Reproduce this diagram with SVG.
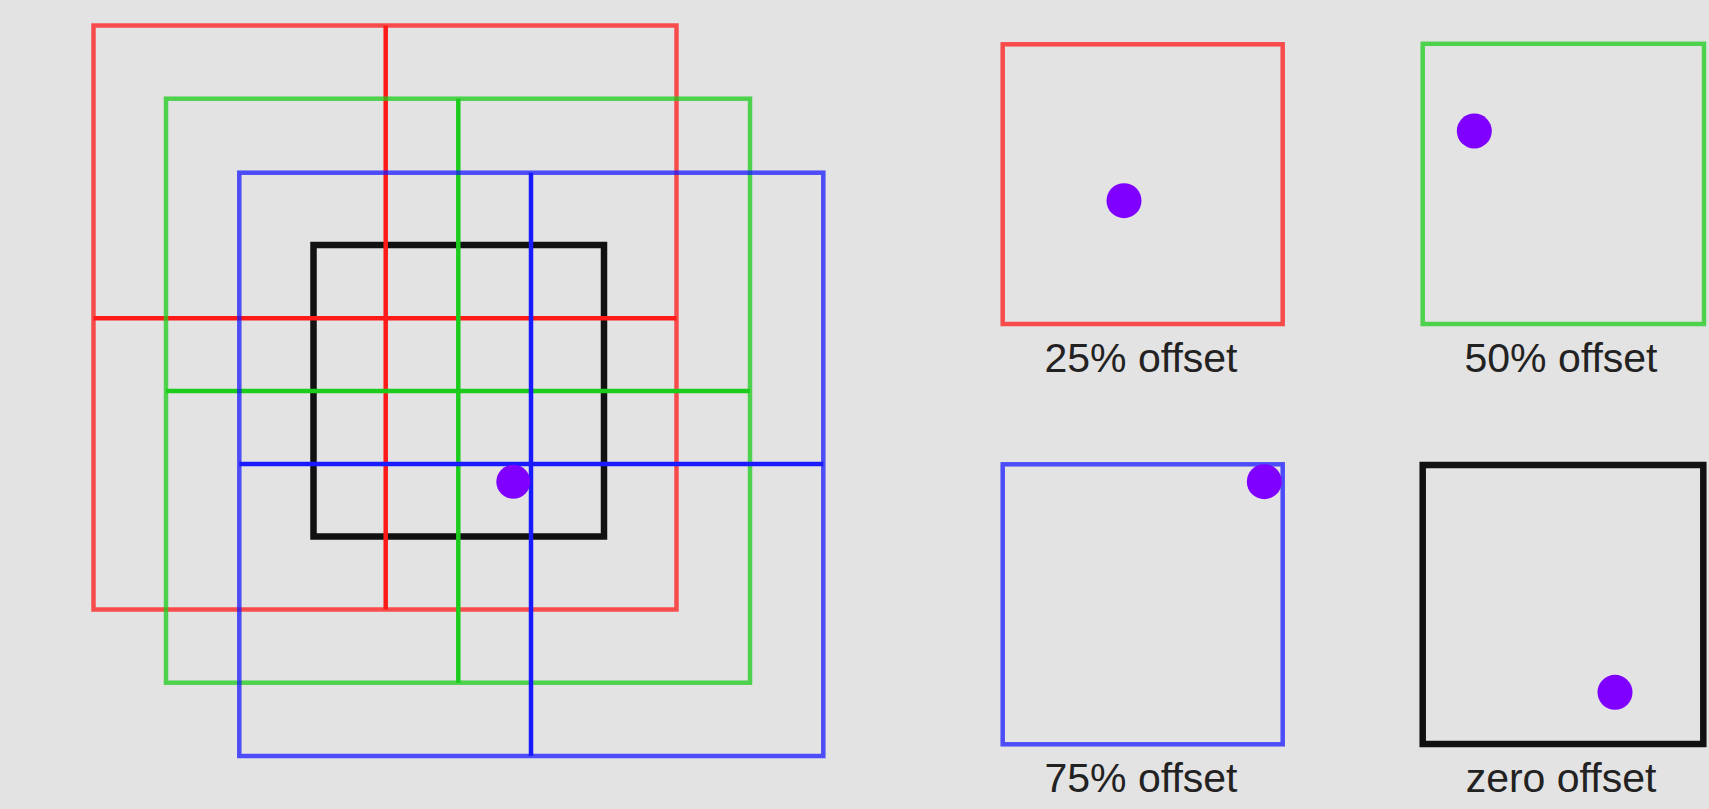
<svg xmlns="http://www.w3.org/2000/svg" width="1709" height="809" viewBox="0 0 1709 809">
<style>
.r{fill:none;stroke:#ff1a1a;stroke-width:4.5}
.g{fill:none;stroke:#1ccc1c;stroke-width:4.5}
.b{fill:none;stroke:#1a1aff;stroke-width:4.5}
.k{fill:none;stroke:#111;stroke-width:6.5}
.ro{stroke-opacity:0.75}
.dot{fill:#8000ff}
.lbl{font-family:"Liberation Sans",Arial,sans-serif;font-size:41px;fill:#222;text-anchor:middle}
</style>
<rect width="1709" height="809" fill="#e3e3e3"/>
<g id="tiling">
  <rect class="k" x="313.5" y="245" width="290.5" height="291.5"/>
  <g id="red-tiles">
    <rect class="r ro" x="93.5" y="25.5" width="583" height="584"/>
    <line class="r" x1="385.7" y1="25.5" x2="385.7" y2="609.5"/>
    <line class="r" x1="93.5" y1="318.3" x2="676.5" y2="318.3"/>
  </g>
  <g id="green-tiles">
    <rect class="g ro" x="166" y="98.7" width="584" height="584"/>
    <line class="g" x1="458.3" y1="98.7" x2="458.3" y2="682.7"/>
    <line class="g" x1="166" y1="391" x2="750" y2="391"/>
  </g>
  <g id="blue-tiles">
    <rect class="b ro" x="239.3" y="172.7" width="584" height="583.3"/>
    <line class="b" x1="531" y1="172.7" x2="531" y2="756"/>
    <line class="b" x1="239.3" y1="464" x2="823.3" y2="464"/>
  </g>
  <circle class="dot" cx="513.3" cy="481.7" r="17"/>
</g>
<g id="tile-25">
  <rect class="r ro" x="1002.7" y="44.3" width="280" height="279.7" stroke-width="5"/>
  <circle class="dot" cx="1124" cy="200.7" r="17.5"/>
  <text class="lbl" x="1141" y="372">25% offset</text>
</g>
<g id="tile-50">
  <rect class="g ro" x="1422.7" y="43.8" width="281.3" height="280.2" stroke-width="5"/>
  <circle class="dot" cx="1474.3" cy="131" r="17.5"/>
  <text class="lbl" x="1561" y="372">50% offset</text>
</g>
<g id="tile-75">
  <rect class="b ro" x="1002.7" y="464.3" width="280" height="280" stroke-width="5"/>
  <circle class="dot" cx="1264.3" cy="481.7" r="17.5"/>
  <text class="lbl" x="1141" y="792">75% offset</text>
</g>
<g id="tile-zero">
  <rect class="k" x="1422.7" y="465" width="280.6" height="279" stroke-width="7"/>
  <circle class="dot" cx="1615" cy="692.3" r="17.5"/>
  <text class="lbl" x="1561" y="792">zero offset</text>
</g>
</svg>
